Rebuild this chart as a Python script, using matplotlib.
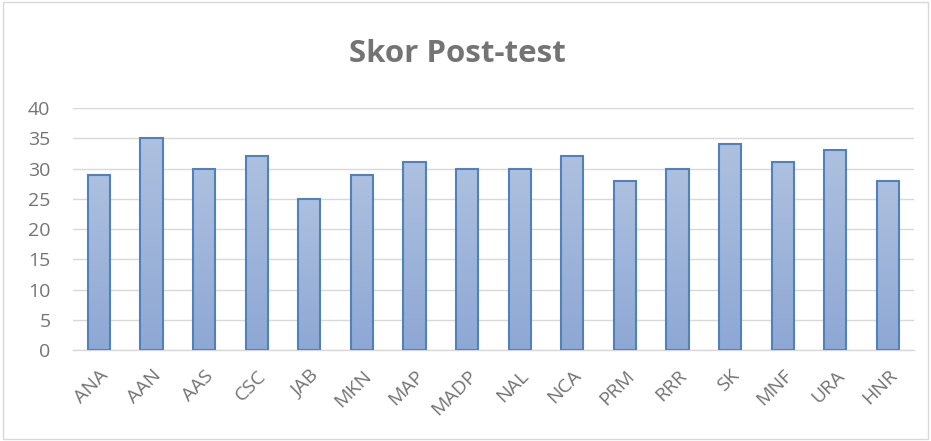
import numpy as np
import matplotlib
matplotlib.use("Agg")
import matplotlib.pyplot as plt
from matplotlib.colors import LinearSegmentedColormap
from matplotlib.patches import Rectangle

categories = ["ANA", "AAN", "AAS", "CSC", "JAB", "MKN", "MAP", "MADP",
              "NAL", "NCA", "PRM", "RRR", "SK", "MNF", "URA", "HNR"]
scores = [29, 35, 30, 32, 25, 29, 31, 30, 30, 32, 28, 30, 34, 31, 33, 28]
yticks = [0, 5, 10, 15, 20, 25, 30, 35, 40]

plt.rcParams['font.family'] = ['Open Sans', 'DejaVu Sans']
text_gray = '#747474'

fig = plt.figure(figsize=(9.31, 4.41), dpi=100)
# outer chart border
fig.patches.append(Rectangle((0.003, 0.004), 0.994, 0.992, transform=fig.transFigure,
                             facecolor='none', edgecolor='#d9d9d9', lw=1))

ax = fig.add_axes([0.078, 0.2063, 0.904, 0.5487])
x = np.arange(len(categories))
bars = ax.bar(x, scores, width=0.42, facecolor='none', edgecolor='#4f81bd',
              linewidth=1.5, zorder=3)

# vertical gradient fill for each bar
cmap = LinearSegmentedColormap.from_list('bar', ['#8ea8d4', '#adc0df'])
grad = np.linspace(0, 1, 256).reshape(-1, 1)
for b in bars:
    x0, w, h = b.get_x(), b.get_width(), b.get_height()
    im = ax.imshow(grad, cmap=cmap, origin='lower', aspect='auto',
                   extent=(x0, x0 + w, 0, h), zorder=2)
    im.set_clip_path(b)

ax.set_xlim(-0.5, len(categories) - 0.5)
ax.set_ylim(0, 40)
ax.set_yticks(yticks)
ax.set_xticks(x)
ax.set_xticklabels(categories, rotation=45, ha='right', rotation_mode='anchor')
ax.tick_params(axis='both', length=0, colors=text_gray)
ax.tick_params(axis='x', pad=12, labelsize=14)
ax.tick_params(axis='y', pad=16, labelsize=14)
ax.grid(axis='y', color='#d9d9d9', linewidth=1, zorder=0)
for s in ['top', 'right', 'left']:
    ax.spines[s].set_visible(False)
ax.spines['bottom'].set_color('#d9d9d9')
ax.spines['bottom'].set_linewidth(1)

fig.text(0.491, 0.878, "Skor Post-test", ha='center', va='center',
         fontsize=22.5, fontweight='bold', color=text_gray)

fig.savefig("out.png", dpi=100)
